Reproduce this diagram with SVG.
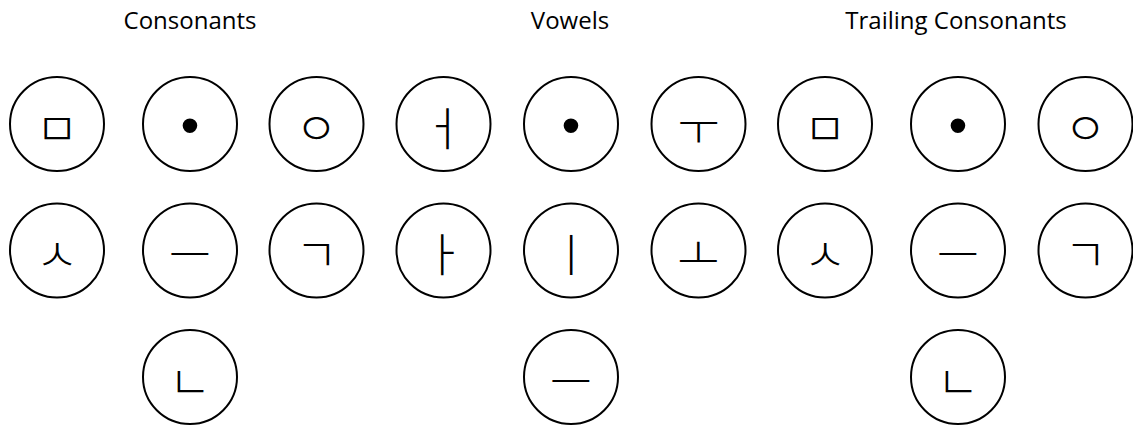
<svg xmlns="http://www.w3.org/2000/svg" width="1133" height="427" viewBox="0 0 1133 427">
<style>
.bg{fill:#fff}
.c{fill:#fff;stroke:#000;stroke-width:2}
.t{font-family:"Open Sans","Liberation Sans",sans-serif;font-size:24px;fill:#000;text-anchor:middle}
.j{font-family:"Noto Sans CJK KR","Noto Sans CJK SC",sans-serif;font-size:46px;font-weight:300;fill:#000;text-anchor:middle;dominant-baseline:central}
.d{font-family:"Liberation Sans",sans-serif;font-size:54px;fill:#000;text-anchor:middle;dominant-baseline:central}
</style>
<rect class="bg" width="1133" height="427"/>
<g id="titles">
<text class="t" x="190" y="29">Consonants</text>
<text class="t" x="570" y="29">Vowels</text>
<text class="t" x="956" y="29">Trailing Consonants</text>
</g>
<g id="connectors"></g>
<g id="c-m"><circle class="c" cx="57" cy="124" r="47"/><text class="j" x="57" y="125">ㅁ</text></g>
<g id="c-dot"><circle class="c" cx="190" cy="124" r="47"/><text class="d" x="190" y="125">•</text></g>
<g id="c-ng"><circle class="c" cx="316.5" cy="124" r="47"/><text class="j" x="316.5" y="125">ㅇ</text></g>
<g id="v-eo"><circle class="c" cx="443.5" cy="124" r="47"/><text class="j" x="443.5" y="125">ㅓ</text></g>
<g id="v-dot"><circle class="c" cx="571" cy="124" r="47"/><text class="d" x="571" y="125">•</text></g>
<g id="v-u"><circle class="c" cx="698.5" cy="124" r="47"/><text class="j" x="698.5" y="125">ㅜ</text></g>
<g id="t-m"><circle class="c" cx="825" cy="124" r="47"/><text class="j" x="825" y="125">ㅁ</text></g>
<g id="t-dot"><circle class="c" cx="958" cy="124" r="47"/><text class="d" x="958" y="125">•</text></g>
<g id="t-ng"><circle class="c" cx="1085.5" cy="124" r="47"/><text class="j" x="1085.5" y="125">ㅇ</text></g>
<g id="c-s"><circle class="c" cx="57" cy="250.5" r="47"/><text class="j" x="57" y="251">ㅅ</text></g>
<g id="c-eu"><circle class="c" cx="190" cy="250.5" r="47"/><text class="j" x="190" y="251">ㅡ</text></g>
<g id="c-g"><circle class="c" cx="316.5" cy="250.5" r="47"/><text class="j" x="316.5" y="251">ㄱ</text></g>
<g id="v-a"><circle class="c" cx="443.5" cy="250.5" r="47"/><text class="j" x="443.5" y="251">ㅏ</text></g>
<g id="v-i"><circle class="c" cx="571" cy="250.5" r="47"/><text class="j" x="571" y="251">ㅣ</text></g>
<g id="v-o"><circle class="c" cx="698.5" cy="250.5" r="47"/><text class="j" x="698.5" y="251">ㅗ</text></g>
<g id="t-s"><circle class="c" cx="825" cy="250.5" r="47"/><text class="j" x="825" y="251">ㅅ</text></g>
<g id="t-eu"><circle class="c" cx="958" cy="250.5" r="47"/><text class="j" x="958" y="251">ㅡ</text></g>
<g id="t-g"><circle class="c" cx="1085.5" cy="250.5" r="47"/><text class="j" x="1085.5" y="251">ㄱ</text></g>
<g id="c-n"><circle class="c" cx="190" cy="377" r="47"/><text class="j" x="190" y="378">ㄴ</text></g>
<g id="v-eu"><circle class="c" cx="571" cy="377" r="47"/><text class="j" x="571" y="378">ㅡ</text></g>
<g id="t-n"><circle class="c" cx="958" cy="377" r="47"/><text class="j" x="958" y="378">ㄴ</text></g>
</svg>
